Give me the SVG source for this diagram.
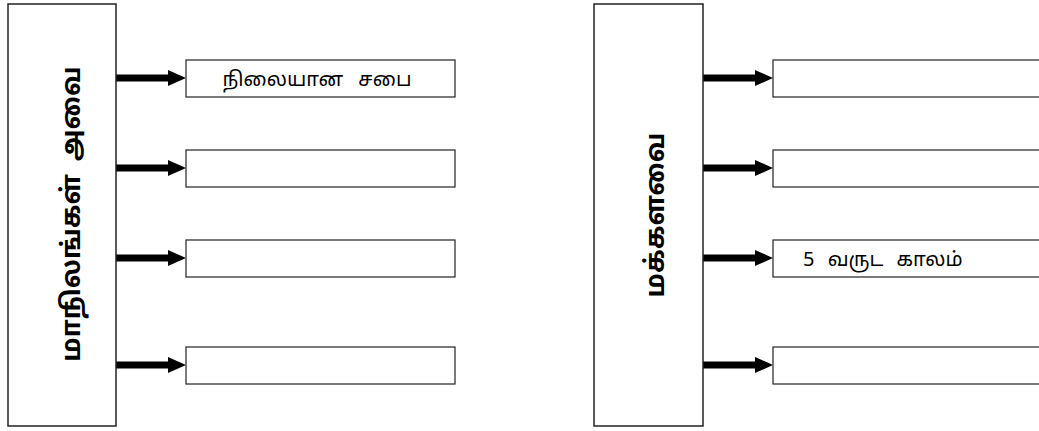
<svg xmlns="http://www.w3.org/2000/svg" width="1039" height="431" viewBox="0 0 1039 431">
<style>
.big{fill:#fff;stroke:#222;stroke-width:1.5}
.box{fill:#fff;stroke:#222;stroke-width:1.2}
.vt{font-family:"Noto Sans Tamil","Lohit Tamil","Noto Sans","DejaVu Sans",sans-serif;font-size:26px;font-weight:bold;fill:#000}
.lt{font-family:"Noto Sans Tamil","Lohit Tamil","Noto Sans","DejaVu Sans",sans-serif;font-size:20px;fill:#000}
</style>
<defs>
<path id="arr" d="M0,-3.5 H52 V-8 L70,0 L52,8 V3.5 H0 Z" fill="#000"/>
</defs>
<g id="connectors">
<use href="#arr" x="116" y="78"/>
<use href="#arr" x="116" y="168"/>
<use href="#arr" x="116" y="258"/>
<use href="#arr" x="116" y="365"/>
<use href="#arr" x="703" y="78"/>
<use href="#arr" x="703" y="168"/>
<use href="#arr" x="703" y="258"/>
<use href="#arr" x="703" y="365"/>
</g>
<g id="states">
<rect class="big" x="8" y="4" width="108" height="422"/>
<text class="vt" transform="translate(80,214) rotate(-90)" text-anchor="middle" word-spacing="6">மாநிலங்கள்  அவை</text>
</g>
<g id="house">
<rect class="big" x="594" y="4" width="109" height="422"/>
<text class="vt" transform="translate(664,215) rotate(-90)" text-anchor="middle">மக்களவை</text>
</g>
<g id="l1"><rect class="box" x="186" y="60" width="269" height="37"/><text class="lt" x="317" y="86" text-anchor="middle" word-spacing="10">நிலையான சபை</text></g>
<g id="l2"><rect class="box" x="186" y="150" width="269" height="37"/></g>
<g id="l3"><rect class="box" x="186" y="240" width="269" height="37"/></g>
<g id="l4"><rect class="box" x="186" y="347" width="269" height="37"/></g>
<g id="r1"><rect class="box" x="773" y="60" width="280" height="37"/></g>
<g id="r2"><rect class="box" x="773" y="150" width="280" height="37"/></g>
<g id="r3"><rect class="box" x="773" y="240" width="280" height="37"/><text class="lt" x="803" y="266" word-spacing="8">5 வருட காலம்</text></g>
<g id="r4"><rect class="box" x="773" y="347" width="280" height="37"/></g>
</svg>
